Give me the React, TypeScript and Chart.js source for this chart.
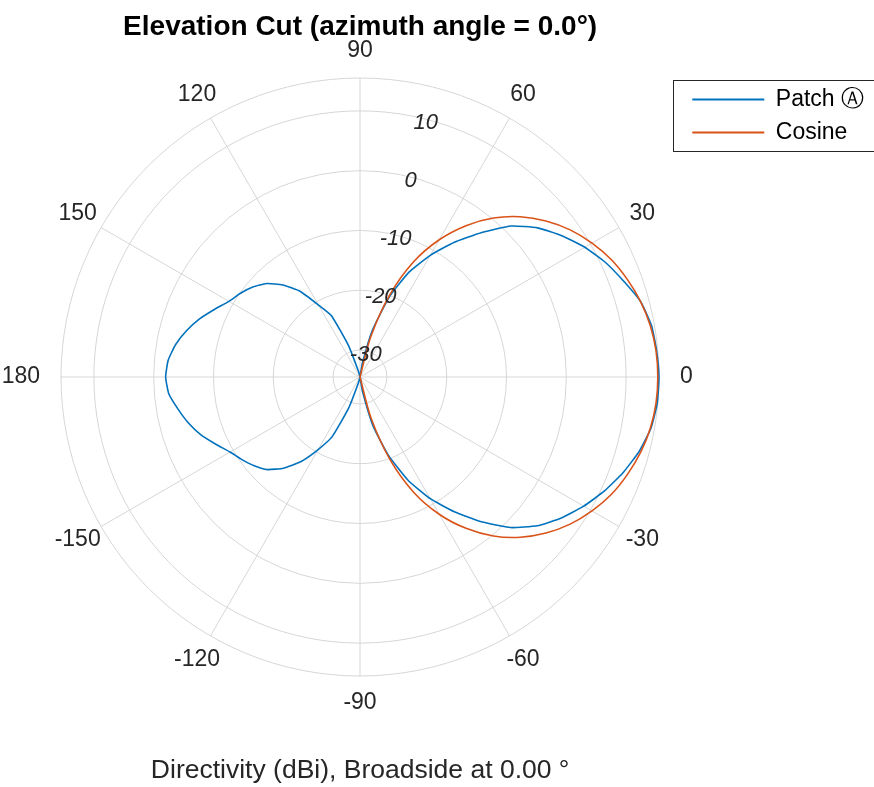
import React, { useEffect, useRef } from 'react';
import { Chart, registerables } from 'chart.js';

Chart.register(...registerables);

// ---- data (dBi) ----
const THETA = [
  -180, -175, -170, -165, -160, -155, -150, -145, -140, -135, -130, -125,
  -120, -115, -110, -105, -100, -95, -90, -85, -80, -75, -70, -65,
  -60, -55, -50, -45, -40, -35, -30, -25, -20, -15, -10, -5,
  0, 5, 10, 15, 20, 25, 30, 35, 40, 45, 50, 55,
  60, 65, 70, 75, 80, 85, 90, 95, 100, 105, 110, 115,
  120, 125, 130, 135, 140, 145, 150, 155, 160, 165, 170, 175,
];

const PATCH_DBI = [
  -2.0, -2.4, -3.6, -4.8, -6.2, -7.9, -9.4, -10.4, -11.4, -12.6, -14.6, -17.2,
  -20.5, -23.5, -29.0, -33.5, -34.5, -34.5, -34.5, -34.5, -32.0, -26.0, -20.5, -15.4,
  -11.0, -7.0, -2.9, 1.1, 4.2, 6.6, 8.7, 10.6, 12.3, 13.8, 14.9, 15.4,
  15.5, 15.3, 15.0, 14.1, 12.4, 10.8, 8.9, 6.7, 4.3, 1.2, -3.0, -7.0,
  -11.0, -15.2, -20.3, -26.3, -32.0, -34.5, -34.5, -34.5, -34.5, -33.6, -29.0, -23.2,
  -20.6, -17.0, -14.4, -12.4, -11.1, -10.1, -9.2, -7.7, -6.0, -4.5, -3.2, -2.3,
];

const COSINE_DBI = [
  null, null, null, null, null, null, null, null, null, null, null, null,
  null, null, null, null, null, null, -34.5, -34.5, -34.5, -27.5, -19.8, -13.2,
  -8.0, -3.6, 0.2, 3.4, 6.1, 8.4, 10.3, 11.9, 13.1, 14.1, 14.8, 15.2,
  15.3, 15.2, 14.8, 14.1, 13.1, 11.9, 10.3, 8.4, 6.1, 3.4, 0.2, -3.6,
  -8.0, -13.2, -19.8, -27.5, -34.5, -34.5, -34.5, null, null, null, null, null,
  null, null, null, null, null, null, null, null, null, null, null, null,
];

const SERIES_NAMES = ['Patch \u24B6', 'Cosine'];
const SERIES_COLORS = ['#0072BD', '#D95319'];
const R_MIN = -34.5;
const R_MAX = 15.5;
const R_GRID = [-34.5, -30, -20, -10, 0, 10, 15.5];
const R_TICK_LABELS = [-30, -20, -10, 0, 10];
const THETA_TICKS = [0, 30, 60, 90, 120, 150, 180, -150, -120, -90, -60, -30];
const TITLE = 'Elevation Cut (azimuth angle = 0.0\u00B0)';
const XLABEL = 'Directivity (dBi), Broadside at 0.00 \u00B0';

const FONT = '"Liberation Sans", Arial, Helvetica, sans-serif';
const GRID = '#d6d6d6';
const TEXT = '#262626';
const R_LABEL_ANGLE = 75.5; // degrees, where MATLAB puts the r tick labels

// radar order: start at 90 deg and go clockwise (decreasing theta)
const N = THETA.length;
const START = THETA.indexOf(90);
const ORDER = THETA.map((_, k) => (START - k + N) % N);
const LABELS = ORDER.map((i) => String(THETA[i]));

const angleLabelsPlugin = {
  id: 'angleLabels',
  afterDraw(chart: any) {
    const s = chart.scales.r;
    const ctx = chart.ctx;
    ctx.save();
    ctx.font = `23px ${FONT}`;
    ctx.fillStyle = TEXT;
    ctx.textAlign = 'center';
    ctx.textBaseline = 'middle';
    THETA_TICKS.forEach((t) => {
      const key = String(t === 180 ? -180 : t);
      const idx = chart.data.labels.indexOf(key);
      const text = String(t);
      const w = ctx.measureText(text).width;
      const extra = t === 0 || t === 180 ? Math.max(0, w / 2 - 6) : 0;
      const p = s.getPointPosition(idx, s.drawingArea + 27 + extra);
      ctx.fillText(text, p.x, p.y);
    });
    ctx.restore();
  },
};

const rTickLabelsPlugin = {
  id: 'rTickLabels',
  afterDatasetsDraw(chart: any) {
    const s = chart.scales.r;
    const ctx = chart.ctx;
    ctx.save();
    ctx.font = `italic 22px ${FONT}`;
    ctx.fillStyle = TEXT;
    ctx.textAlign = 'center';
    ctx.textBaseline = 'middle';
    const a = (R_LABEL_ANGLE * Math.PI) / 180;
    R_TICK_LABELS.forEach((v) => {
      const d = s.getDistanceFromCenterForValue(v) - 4;
      ctx.fillText(String(v), s.xCenter + d * Math.cos(a), s.yCenter - d * Math.sin(a));
    });
    ctx.restore();
  },
};

const legendBorderPlugin = {
  id: 'legendBorder',
  afterDraw(chart: any) {
    const hb = chart.legend && chart.legend.legendHitBoxes;
    if (!hb || !hb.length) return;
    const first = hb[0];
    const last = hb[hb.length - 1];
    const ctx = chart.ctx;
    ctx.save();
    ctx.strokeStyle = '#262626';
    ctx.lineWidth = 1;
    const x = Math.round(first.left - 19) + 0.5;
    const y = Math.round(first.top - 8) + 0.5;
    const h = Math.round(last.top + last.height - first.top + 15);
    ctx.strokeRect(x, y, 400, h);
    ctx.restore();
  },
};

export default function App() {
  const ref = useRef<HTMLCanvasElement>(null);
  useEffect(() => {
    if (!ref.current) return;
    Chart.defaults.font.family = FONT;
    Chart.defaults.color = TEXT;
    const chart = new Chart(ref.current, {
      type: 'radar',
      data: {
        labels: LABELS,
        datasets: [
          {
            label: SERIES_NAMES[0],
            data: ORDER.map((i) => PATCH_DBI[i]),
            borderColor: SERIES_COLORS[0],
            backgroundColor: SERIES_COLORS[0],
            borderWidth: 1.6,
            pointRadius: 0,
            fill: false,
            tension: 0.15,
            spanGaps: false,
            order: 1,
          },
          {
            label: SERIES_NAMES[1],
            data: ORDER.map((i) => COSINE_DBI[i]),
            borderColor: SERIES_COLORS[1],
            backgroundColor: SERIES_COLORS[1],
            borderWidth: 1.6,
            pointRadius: 0,
            fill: false,
            tension: 0.3,
            spanGaps: false,
            order: 0,
          },
        ],
      },
      options: {
        responsive: false,
        animation: false,
        devicePixelRatio: 1,
        layout: { padding: { left: 38, right: 0, top: 0, bottom: 0 } },
        plugins: {
          title: {
            display: true,
            text: TITLE,
            fullSize: false,
            color: '#000',
            font: { size: 28, weight: 'bold', family: FONT },
            padding: { top: 10.2, bottom: 34.2 },
          },
          subtitle: {
            display: true,
            text: XLABEL,
            position: 'bottom',
            fullSize: false,
            color: TEXT,
            font: { size: 26.5, weight: 'normal', family: FONT },
            padding: { top: 79.1, bottom: 0.1 },
          },
          legend: {
            display: true,
            position: 'right',
            align: 'start',
            fullSize: false,
            maxWidth: 192,
            labels: {
              boxWidth: 72,
              boxHeight: 2,
              padding: 10,
              color: '#000',
              font: { size: 23, family: FONT },
              generateLabels: (c: any) =>
                c.data.datasets.map((ds: any, i: number) => ({
                  text: ds.label,
                  fillStyle: ds.borderColor,
                  strokeStyle: ds.borderColor,
                  lineWidth: 0,
                  hidden: false,
                  datasetIndex: i,
                  fontColor: '#000',
                })),
            },
          },
          tooltip: { enabled: false },
        },
        scales: {
          r: {
            type: 'radialLinear',
            min: R_MIN,
            max: R_MAX,
            startAngle: 0,
            afterBuildTicks: (s: any) => {
              s.ticks = R_GRID.map((v) => ({ value: v }));
            },
            ticks: { display: false },
            pointLabels: { display: false },
            grid: { display: true, circular: true, color: GRID, lineWidth: 1 },
            angleLines: {
              display: true,
              color: GRID,
              lineWidth: (c: any) => (Number(c.label) % 30 === 0 ? 1 : 0),
            },
          },
        },
      } as any,
      plugins: [rTickLabelsPlugin, angleLabelsPlugin, legendBorderPlugin],
    } as any);
    return () => chart.destroy();
  }, []);
  return (
    <div style={{ position: 'absolute', left: 0, top: 0, width: 874, height: 787, background: '#fff' }}>
      <canvas ref={ref} width={874} height={787} style={{ display: 'block' }} />
    </div>
  );
}
